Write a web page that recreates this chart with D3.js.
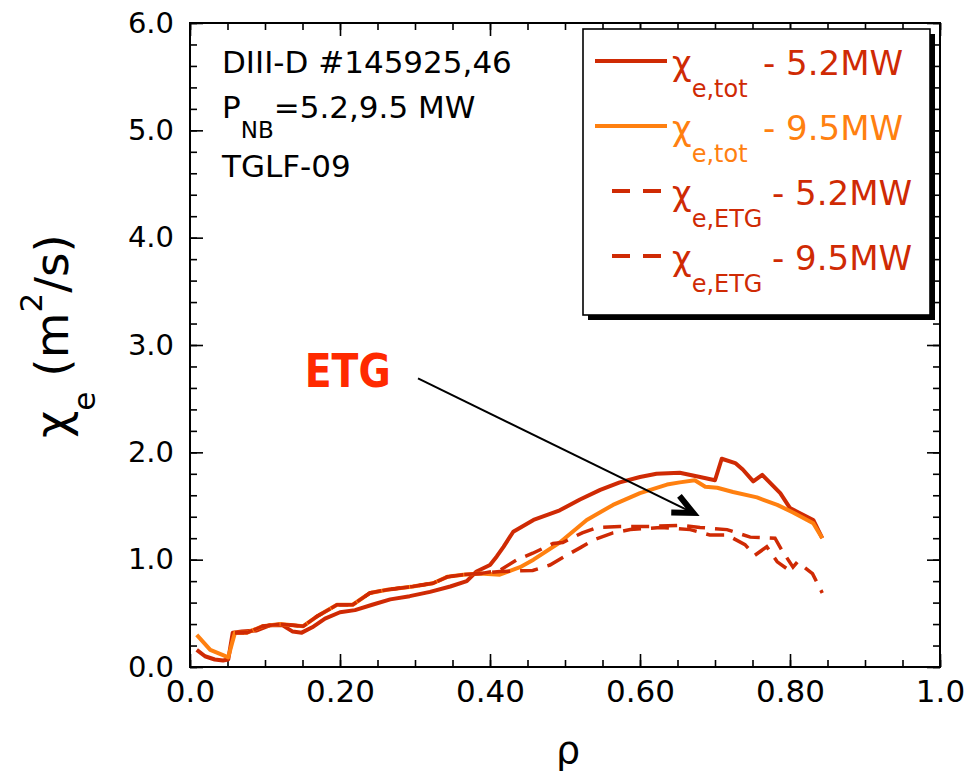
<!DOCTYPE html>
<html><head><meta charset="utf-8">
<script src="https://cdn.jsdelivr.net/npm/d3@7"></script>
<style>body{margin:0;background:#fff} text{font-family:"DejaVu Sans",sans-serif}</style>
</head><body><svg id="c" width="970" height="777"></svg>
<script>
// ---- data ----
const rho_tot52 = [0.009,0.02,0.033,0.044,0.051,0.057,0.069,0.089,0.107,0.123,0.137,0.149,0.163,0.18,0.2,0.22,0.243,0.267,0.293,0.32,0.347,0.369,0.382,0.4,0.409,0.418,0.431,0.458,0.493,0.52,0.547,0.573,0.6,0.622,0.653,0.68,0.70,0.709,0.727,0.737,0.751,0.763,0.787,0.80,0.831,0.843];
const chi_tot52 = [0.16,0.10,0.07,0.06,0.07,0.32,0.33,0.34,0.39,0.39,0.33,0.32,0.37,0.45,0.51,0.53,0.58,0.63,0.66,0.70,0.75,0.80,0.89,0.95,1.03,1.12,1.26,1.37,1.46,1.56,1.65,1.72,1.77,1.80,1.81,1.77,1.74,1.94,1.90,1.84,1.73,1.79,1.62,1.48,1.37,1.20];

const rho_tot95 = [0.009,0.027,0.044,0.051,0.056,0.06,0.076,0.097,0.12,0.151,0.169,0.196,0.217,0.24,0.263,0.297,0.324,0.343,0.364,0.387,0.413,0.44,0.458,0.493,0.529,0.564,0.6,0.636,0.653,0.673,0.687,0.703,0.724,0.756,0.783,0.804,0.831,0.843];
const chi_tot95 = [0.30,0.16,0.11,0.09,0.22,0.32,0.32,0.38,0.40,0.38,0.47,0.58,0.58,0.69,0.72,0.75,0.78,0.84,0.86,0.87,0.86,0.93,1.00,1.16,1.37,1.51,1.62,1.70,1.72,1.74,1.68,1.67,1.63,1.58,1.51,1.44,1.34,1.20];

const rho_etg52 = [0.06,0.076,0.097,0.12,0.151,0.169,0.196,0.217,0.24,0.263,0.297,0.324,0.343,0.364,0.387,0.413,0.436,0.457,0.484,0.497,0.523,0.543,0.573,0.613,0.653,0.68,0.716,0.747,0.78,0.789,0.804,0.81,0.83,0.843];
const chi_etg52 = [0.32,0.32,0.38,0.40,0.38,0.47,0.58,0.58,0.69,0.72,0.75,0.78,0.84,0.86,0.87,0.90,1.00,1.06,1.15,1.16,1.25,1.30,1.31,1.31,1.32,1.30,1.28,1.21,1.20,1.09,0.93,0.98,0.87,0.69];

const rho_etg95 = [0.06,0.076,0.097,0.12,0.151,0.169,0.196,0.217,0.24,0.263,0.297,0.324,0.343,0.364,0.387,0.413,0.457,0.48,0.497,0.52,0.537,0.564,0.587,0.627,0.667,0.693,0.716,0.74,0.753,0.769,0.783,0.795];
const chi_etg95 = [0.32,0.32,0.38,0.40,0.38,0.47,0.58,0.58,0.69,0.72,0.75,0.78,0.84,0.86,0.87,0.89,0.90,0.95,1.02,1.11,1.18,1.25,1.28,1.30,1.28,1.23,1.23,1.14,1.04,1.12,0.98,0.92];

const xTicks = [0, 0.2, 0.4, 0.6, 0.8, 1.0];
const xTickLabels = ["0.0","0.20","0.40","0.60","0.80","1.0"];
const yTicks = [0,1,2,3,4,5,6];
const yTickLabels = ["0.0","1.0","2.0","3.0","4.0","5.0","6.0"];

const legendMain = ["χ","χ","χ","χ"];
const legendSub  = ["e,tot","e,tot","e,ETG","e,ETG"];
const legendTail = ["- 5.2MW","- 9.5MW","- 5.2MW","- 9.5MW"];

const infoLine1 = "DIII-D #145925,46";
const infoLine2 = ["P","NB","=5.2,9.5 MW"];
const infoLine3 = "TGLF-09";

const etgLabel = "ETG";
const etgLabelPos = [0.153, 2.61];
const arrowFrom = [0.304, 2.69];
const arrowTo   = [0.671, 1.435];

// ---- styles ----
const RED = "#cf2a04", ORANGE = "#ff8010", ETGCOL = "#ff2a00";

const svg = d3.select("#c");
const L=190, R=940, T=23, B=667;
const x = d3.scaleLinear().domain([0,1]).range([L,R]);
const y = d3.scaleLinear().domain([0,6]).range([B,T]);

// axes: minor ticks
const xMinor = d3.range(0, 1.0001, 0.05);
const yMinor = d3.range(0, 6.001, 0.2);
function styleAxis(g){ g.select(".domain").remove(); g.selectAll("line").attr("stroke","#000").attr("stroke-width",1.6); }

svg.append("g").attr("transform",`translate(0,${B})`).call(d3.axisBottom(x).tickValues(xMinor).tickSize(-7).tickFormat("")).call(styleAxis);
svg.append("g").attr("transform",`translate(0,${T})`).call(d3.axisTop(x).tickValues(xMinor).tickSize(-7).tickFormat("")).call(styleAxis);
svg.append("g").attr("transform",`translate(${L},0)`).call(d3.axisLeft(y).tickValues(yMinor).tickSize(-7).tickFormat("")).call(styleAxis);
svg.append("g").attr("transform",`translate(${R},0)`).call(d3.axisRight(y).tickValues(yMinor).tickSize(-7).tickFormat("")).call(styleAxis);

// major ticks with labels
const xb = svg.append("g").attr("transform",`translate(0,${B})`)
  .call(d3.axisBottom(x).tickValues(xTicks).tickSize(-13).tickPadding(13).tickFormat((d,i)=>xTickLabels[i])).call(styleAxis);
xb.selectAll("text").attr("font-size",31).attr("font-family","DejaVu Sans").attr("fill","#000");
svg.append("g").attr("transform",`translate(0,${T})`).call(d3.axisTop(x).tickValues(xTicks).tickSize(-13).tickFormat("")).call(styleAxis);
const yl = svg.append("g").attr("transform",`translate(${L},0)`)
  .call(d3.axisLeft(y).tickValues(yTicks).tickSize(-13).tickPadding(16).tickFormat((d,i)=>yTickLabels[i])).call(styleAxis);
yl.selectAll("text").attr("font-size",29).attr("font-family","DejaVu Sans").attr("fill","#000");
svg.append("g").attr("transform",`translate(${R},0)`).call(d3.axisRight(y).tickValues(yTicks).tickSize(-13).tickFormat("")).call(styleAxis);

svg.append("rect").attr("x",L).attr("y",T).attr("width",R-L).attr("height",B-T)
  .attr("fill","none").attr("stroke","#000").attr("stroke-width",2);

// curves
const line = d3.line().x(d=>x(d[0])).y(d=>y(d[1]));
const zip = (a,b)=>a.map((v,i)=>[v,b[i]]);
svg.append("path").datum(zip(rho_tot52,chi_tot52)).attr("d",line).attr("fill","none").attr("stroke",RED).attr("stroke-width",4).attr("stroke-linejoin","round");
svg.append("path").datum(zip(rho_tot95,chi_tot95)).attr("d",line).attr("fill","none").attr("stroke",ORANGE).attr("stroke-width",4).attr("stroke-linejoin","round");
svg.append("path").datum(zip(rho_etg52,chi_etg52)).attr("d",line).attr("fill","none").attr("stroke",RED).attr("stroke-width",3.5).attr("stroke-dasharray","18,10");
svg.append("path").datum(zip(rho_etg95,chi_etg95)).attr("d",line).attr("fill","none").attr("stroke",RED).attr("stroke-width",3.5).attr("stroke-dasharray","18,10").attr("stroke-dashoffset",9);

// annotation
svg.append("text").attr("x",x(etgLabelPos[0])).attr("y",y(etgLabelPos[1])).text(etgLabel)
  .attr("font-family","Open Sans").attr("font-weight",600).attr("font-size",46).attr("fill",ETGCOL)
  .attr("textLength",86).attr("lengthAdjust","spacingAndGlyphs");
const ax1=x(arrowFrom[0]), ay1=y(arrowFrom[1]), ax2=x(arrowTo[0]), ay2=y(arrowTo[1]);
svg.append("line").attr("x1",ax1).attr("y1",ay1).attr("x2",ax2).attr("y2",ay2).attr("stroke","#000").attr("stroke-width",2);
const ang = Math.atan2(ay2-ay1, ax2-ax1), hl=22, ha=25*Math.PI/180;
const p1=[ax2-hl*Math.cos(ang-ha), ay2-hl*Math.sin(ang-ha)], p2=[ax2-hl*Math.cos(ang+ha), ay2-hl*Math.sin(ang+ha)];
svg.append("path").attr("d",`M${p1}L${ax2},${ay2}L${p2}`).attr("fill","none").attr("stroke","#000").attr("stroke-width",6).attr("stroke-linejoin","miter");

// info text
const info = svg.append("g").attr("font-size",31).attr("fill","#000");
info.append("text").attr("x",222).attr("y",73).text(infoLine1);
const t2 = info.append("text").attr("x",222).attr("y",118);
t2.append("tspan").text(infoLine2[0]);
t2.append("tspan").attr("font-size",23).attr("dy",20).text(infoLine2[1]);
t2.append("tspan").attr("dy",-20).text(infoLine2[2]);
info.append("text").attr("x",222).attr("y",177).text(infoLine3);

// legend
const lg = svg.append("g");
lg.append("rect").attr("x",588).attr("y",34).attr("width",347).attr("height",286).attr("fill","#000");
lg.append("rect").attr("x",583).attr("y",29).attr("width",347).attr("height",286).attr("fill","#fff").attr("stroke","#000").attr("stroke-width",1.6);
const lgColors=[RED,ORANGE,RED,RED], lgDash=[null,null,"18,13","18,13"], lgBase=[75,140,205,270];
legendMain.forEach((m,i)=>{
  const ly=lgBase[i]-14;
  lg.append("line").attr("x1", lgDash[i]?612:595).attr("x2", lgDash[i]?662:667).attr("y1",ly).attr("y2",ly)
    .attr("stroke",lgColors[i]).attr("stroke-width",4).attr("stroke-dasharray",lgDash[i]);
  const t = lg.append("text").attr("x",672).attr("y",lgBase[i]).attr("font-size",34).attr("fill",lgColors[i]);
  t.append("tspan").text(m);
  t.append("tspan").attr("font-size",24).attr("dy",22).text(legendSub[i]);
  t.append("tspan").attr("x", i<2?763:772).attr("dy",-22).text(legendTail[i]);
});

// axis titles
const yt = svg.append("text").attr("transform","translate(68,336) rotate(-90)").attr("text-anchor","middle").attr("font-size",47).attr("fill","#000");
yt.append("tspan").text("χ");
yt.append("tspan").attr("font-size",31).attr("dy",27).text("e");
yt.append("tspan").attr("dy",-27).text(" (m");
yt.append("tspan").attr("font-size",31).attr("dy",-26).text("2");
yt.append("tspan").attr("dy",26).text("/s)");
svg.append("text").attr("x",568).attr("y",763).attr("text-anchor","middle").attr("font-size",38).attr("fill","#000").text("ρ");
</script></body></html>
